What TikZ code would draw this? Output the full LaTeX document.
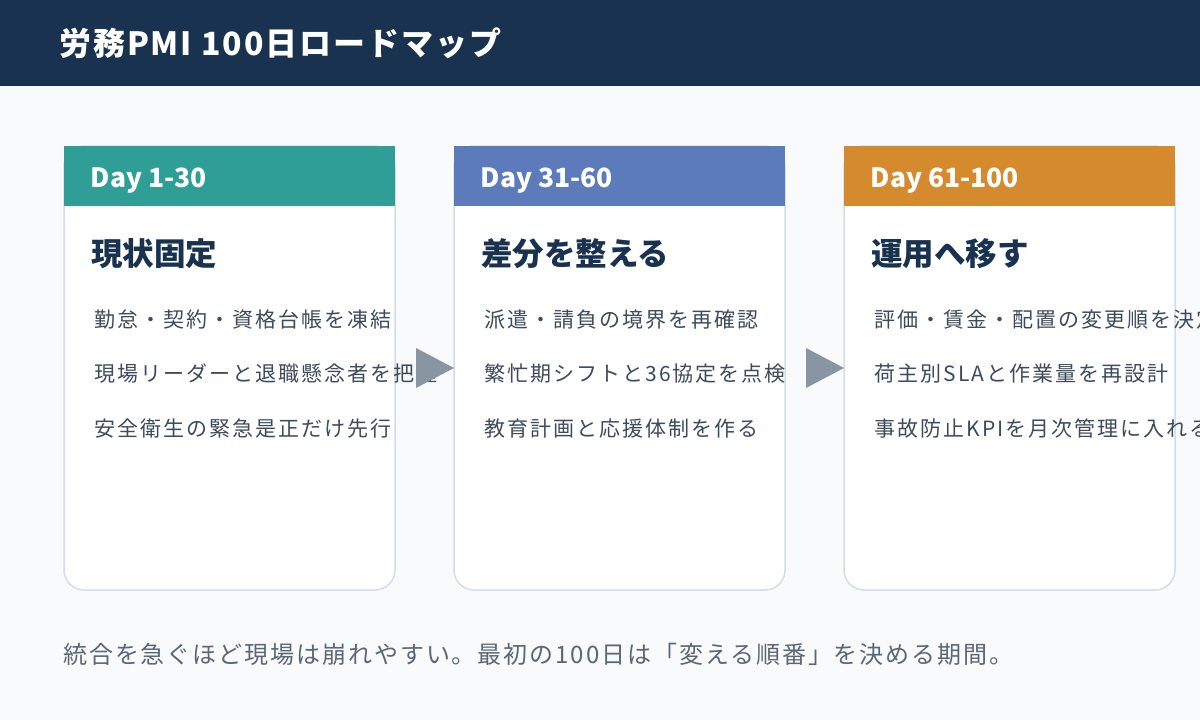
\documentclass[tikz,border=0pt]{standalone}
\usepackage{fontspec}
\setmainfont{Noto Sans CJK JP}
\newfontfamily\itemfont[LetterSpace=9.5]{Noto Sans CJK JP}
\newfontfamily\headfont[LetterSpace=6]{Noto Sans CJK JP}
\newfontfamily\footfont[LetterSpace=8]{Noto Sans CJK JP}
\definecolor{navy}{HTML}{18324F}
\definecolor{pagebg}{HTML}{F8FAFC}
\definecolor{teal}{HTML}{2E9E96}
\definecolor{bluec}{HTML}{5B7BBA}
\definecolor{orangec}{HTML}{D68A2E}
\definecolor{cardline}{HTML}{D3DDE9}
\definecolor{arrowc}{HTML}{8896A3}
\definecolor{itemc}{HTML}{3D4B5C}
\definecolor{footc}{HTML}{5B6777}
\tikzset{
  card/.style={draw=cardline, line width=1.5pt, fill=white, rounded corners=20pt,
    minimum width=331pt, minimum height=444pt, inner sep=0pt, outer sep=0pt},
  band/.style={anchor=north west, minimum width=331pt, minimum height=60pt, inner sep=0pt, outer sep=0pt},
  daylabel/.style={anchor=base west, inner sep=0pt, text=white, font=\bfseries\fontsize{26.5}{30}\selectfont},
  ctitle/.style={anchor=base west, inner sep=0pt, text=navy, font=\bfseries\fontsize{31.5}{36}\selectfont},
  itemtxt/.style={anchor=base west, inner sep=0pt, text=itemc, font=\itemfont\fontsize{21}{25}\selectfont},
  flowarrow/.style={fill=arrowc},
}
\begin{document}
\begin{tikzpicture}[x=1pt,y=-1pt]
\useasboundingbox (0,0) rectangle (1200,720);
\fill[pagebg] (0,0) rectangle (1200,720);
\fill[navy] (0,0) rectangle (1200,86);
\node[anchor=base west, inner sep=0pt, text=white, font=\headfont\bfseries\fontsize{32}{36}\selectfont] (title) at (59,55) {労務PMI 100日ロードマップ};

% cards
\node[card] (c1) at (229.5,368) {};
\node[card] (c2) at (619.5,368) {};
\node[card] (c3) at (1009.5,368) {};
\node[band, fill=teal] (b1) at (c1.north west) {};
\node[band, fill=bluec] (b2) at (c2.north west) {};
\node[band, fill=orangec] (b3) at (c3.north west) {};

\node[daylabel] (d1) at (90.5,187) {Day 1-30};
\node[daylabel] (d2) at (480.5,187) {Day 31-60};
\node[daylabel] (d3) at (870.5,187) {Day 61-100};

\node[ctitle] (t1) at (91,265) {現状固定};
\node[ctitle] (t2) at (481,265) {差分を整える};
\node[ctitle] (t3) at (871,265) {運用へ移す};

\node[itemtxt] (i11) at (94.5,327) {勤怠・契約・資格台帳を凍結};
\node[itemtxt] (i12) at (94.5,381) {現場リーダーと退職懸念者を把握};
\node[itemtxt] (i13) at (94.5,436) {安全衛生の緊急是正だけ先行};

\node[itemtxt] (i21) at (484.5,327) {派遣・請負の境界を再確認};
\node[itemtxt] (i22) at (484.5,381) {繁忙期シフトと36協定を点検};
\node[itemtxt] (i23) at (484.5,436) {教育計画と応援体制を作る};

\node[itemtxt] (i31) at (874.5,327) {評価・賃金・配置の変更順を決定};
\node[itemtxt] (i32) at (874.5,381) {荷主別SLAと作業量を再設計};
\node[itemtxt] (i33) at (874.5,436) {事故防止KPIを月次管理に入れる};

% arrows
\fill[flowarrow] ([xshift=21pt,yshift=20pt]c1.east) -- (c2.west) -- ([xshift=21pt,yshift=-20pt]c1.east) -- cycle;
\fill[flowarrow] ([xshift=21pt,yshift=20pt]c2.east) -- (c3.west) -- ([xshift=21pt,yshift=-20pt]c2.east) -- cycle;

\node[anchor=base west, inner sep=0pt, text=footc, font=\footfont\fontsize{24}{28}\selectfont] (foot) at (63,663) {統合を急ぐほど現場は崩れやすい。最初の100日は「変える順番」を決める期間。};
\end{tikzpicture}
\end{document}
